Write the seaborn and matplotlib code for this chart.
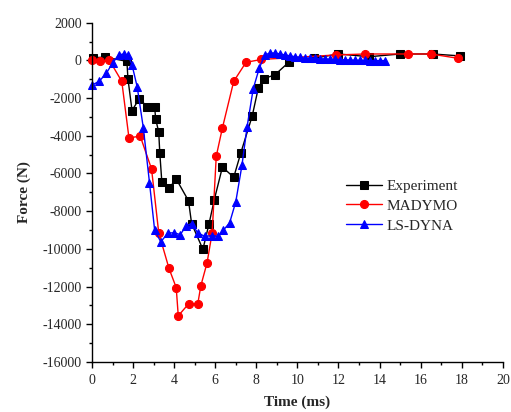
import numpy as np
import pandas as pd
import seaborn as sns
import matplotlib.pyplot as plt
from matplotlib.ticker import MultipleLocator

# Experiment (black squares)
expTime = [0.05, 0.65, 1.7, 1.75, 1.95, 2.3, 2.7, 3.05, 3.1, 3.25, 3.3, 3.4, 3.75, 4.1,
           4.7, 4.85, 5.4, 5.7, 5.95, 6.35, 6.9, 7.25, 7.8, 8.1, 8.35, 8.9, 9.6, 10.8,
           12.0, 13.5, 15.0, 16.6, 17.9]
expForce = [145, 170, -50, -970, -2660, -2030, -2470, -2470, -3100, -3820, -4890, -6440, -6780, -6290,
            -7450, -8660, -10020, -8660, -7410, -5660, -6200, -4890, -2950, -1450, -970, -770, -80, 115,
            340, 195, 340, 340, 240]

# MADYMO (red circles)
madTime = [0.0, 0.4, 0.85, 1.45, 1.8, 2.35, 2.9, 3.25, 3.75, 4.1, 4.2, 4.7, 5.15, 5.3,
           5.6, 5.85, 6.05, 6.35, 6.9, 7.5, 8.25, 11.9, 13.3, 15.4, 16.5, 17.8]
madForce = [0, -50, 0, -1110, -4110, -4020, -5760, -9150, -11040, -12050, -13550, -12920, -12920, -11950,
            -10750, -9150, -5080, -3580, -1110, -100, 50, 290, 340, 340, 340, 115]

# LS-DYNA (blue triangles)
dynaTime = [0.0, 0.35, 0.7, 1.0, 1.3, 1.55, 1.75, 1.95, 2.2, 2.5, 2.8, 3.05, 3.35, 3.7,
            4.0, 4.3, 4.6, 4.85, 5.15, 5.5, 5.85, 6.15, 6.4, 6.7, 7.0, 7.3, 7.55, 7.85,
            8.15, 8.42, 8.66, 8.91, 9.15, 9.39, 9.64, 9.88, 10.12, 10.37, 10.61, 10.85, 11.1,
            11.34, 11.58, 11.83, 12.07, 12.31, 12.56, 12.8, 13.04, 13.29, 13.53, 13.77, 14.02, 14.26]
dynaForce = [-1310, -1110, -680, -145, 290, 340, 290, -240, -1400, -3580, -6490, -9000, -9630, -9150,
             -9150, -9240, -8760, -8660, -9150, -9340, -9290, -9340, -9000, -8620, -7500, -5570, -3530, -1500,
             -390, 290, 390, 390, 340, 290, 240, 195, 155, 115, 115, 115, 80,
             80, 60, 50, 40, 30, 20, 10, 0, 0, -10, -10, -10, -10]

sns.set_style("ticks")
plt.rcParams['font.family'] = ['Liberation Serif', 'DejaVu Serif']
plt.rcParams['axes.unicode_minus'] = False

fig = plt.figure(figsize=(5.11, 4.12), dpi=100)
ax = fig.add_axes([0.18, 0.1214, 0.804, 0.8235])

series = [
    ('Experiment', expTime, expForce, 'black', 's', 5.2),
    ('MADYMO', madTime, madForce, 'red', 'o', 5.8),
    ('LS-DYNA', dynaTime, dynaForce, 'blue', '^', 6.2),
]
for name, t, f, col, mk, ms in series:
    df = pd.DataFrame({'Time': t, 'Force': f})
    sns.lineplot(data=df, x='Time', y='Force', ax=ax, color=col, marker=mk, markersize=ms,
                 markeredgecolor=col, linewidth=1, sort=False, estimator=None,
                 label=name, clip_on=False)

ax.set_xlim(0, 20)
ax.set_ylim(-16000, 2000)
ax.xaxis.set_major_locator(MultipleLocator(2))
ax.xaxis.set_minor_locator(MultipleLocator(1))
ax.yaxis.set_major_locator(MultipleLocator(2000))
ax.yaxis.set_minor_locator(MultipleLocator(1000))
ax.tick_params(which='major', direction='out', length=4, width=1, labelsize=10, color='black')
ax.tick_params(axis='x', which='major', pad=5)
ax.tick_params(which='minor', direction='out', length=2.5, width=1, color='black')
sns.despine(ax=ax)
for s in ['left', 'bottom']:
    ax.spines[s].set_color('black')
    ax.spines[s].set_linewidth(1)

ax.set_xlabel('Time (ms)', fontsize=11, fontweight='bold', labelpad=6)
ax.set_ylabel('Force (N)', fontsize=11, fontweight='bold', labelpad=8)

ax.legend(loc='center left', bbox_to_anchor=(0.60, 0.46), frameon=False, fontsize=11,
          borderpad=0, handlelength=2.35, handletextpad=0.3, labelspacing=0.4)

plt.savefig('out.png', dpi=100)
